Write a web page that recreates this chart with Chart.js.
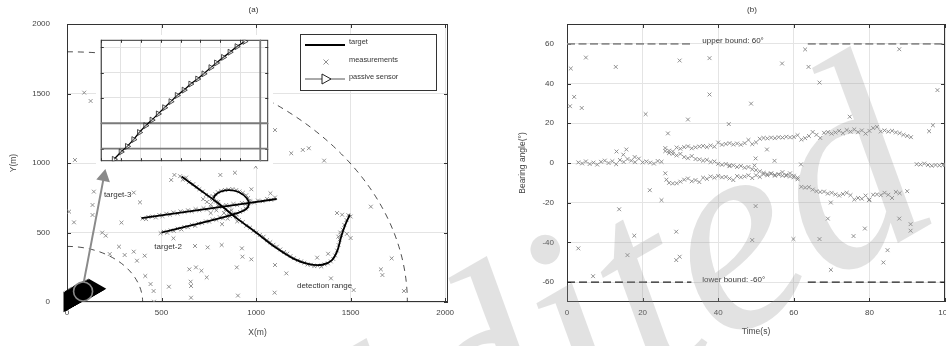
<!DOCTYPE html>
<html>
<head>
<meta charset="utf-8">
<script src="https://cdn.jsdelivr.net/npm/chart.js@4.4.0/dist/chart.umd.min.js"></script>
<style>
html, body { margin: 0; padding: 0; background: #fff; width: 946px; height: 346px; overflow: hidden; }
canvas { position: absolute; top: 0; }
#chartA { left: 0; }
#chartB { left: 473px; }
#inset { left: 96px; top: 35px; }
#mark { left: 0; pointer-events: none; }
</style>
</head>
<body>
<canvas id="chartA" width="473" height="346"></canvas>
<canvas id="chartB" width="500" height="346"></canvas>
<canvas id="inset" width="177" height="131"></canvas>
<canvas id="mark" width="946" height="346"></canvas>
<script>
// ---------- (a) plane view, metres ----------
const xTicksA = [0, 500, 1000, 1500, 2000];
const yTicksA = [0, 500, 1000, 1500, 2000];
const detectionRadii = [400, 1800];

// true tracks
const target1Path = [[606,903],[700,810],[800,710],[900,600],[1000,500],[1100,395],[1200,310],[1280,272],[1350,268],[1400,300],[1430,370],[1450,470],[1470,550],[1496,628]];
const target2Path = [[394,604],[750,672],[1109,741]];
const target3Path = [[500,500],[650,550],[800,600],[900,640],[945,665],[962,700],[952,745],[910,790],[860,805],[815,795],[785,770],[775,745]];

// passive sensor track (inset units)
const sensorX = [13.3,20.2,26.5,32.9,38.6,44.9,51.2,57.5,63.8,70.2,76.5,83.4,90.1,97.0,103.3,110.3,115.9,122.9,129.5,136.5,144.4];
const sensorY = [1.5,7.3,11.7,17.1,22.7,28.1,32.5,37.4,42.3,47.1,52.0,56.2,61.0,65.0,69.1,74.0,77.7,82.1,86.2,90.6,94.7];
const zoomMark = [[85,76]];
const zoomArrow = [[89,145],[195,900]];

// measurements
const clutterA = [[91,1506],[125,1446],[42,1022],[1100,1237],[1186,1070],[1247,1094],[1279,1106],[1360,1017],[998,974],[568,914],[551,878],[811,914],[888,930],[975,811],[1076,782],[142,794],[135,698],[135,626],[11,650],[37,573],[186,499],[205,477],[288,571],[353,787],[386,717],[275,398],[226,345],[305,338],[353,362],[370,297],[411,333],[414,187],[442,129],[458,79],[460,2],[539,110],[563,458],[677,403],[744,393],[818,410],[925,386],[928,326],[975,307],[647,235],[682,249],[711,225],[739,177],[654,146],[656,115],[656,31],[898,249],[904,46],[1100,266],[1160,206],[1098,67],[1323,319],[1396,170],[1516,86],[1607,686],[1717,314],[1660,235],[1668,194],[1782,79],[1381,347]];
const meas1 = [[598,905],[612,880],[630,895],[645,862],[668,848],[686,828],[700,812],[718,795],[735,770],[752,760],[770,738],[788,722],[800,700],[822,690],[838,665],[858,650],[872,628],[895,612],[910,590],[930,575],[948,548],[968,535],[985,512],[1002,500],[1020,482],[1040,470],[1058,445],[1075,430],[1092,412],[1110,398],[1128,378],[1148,360],[1165,348],[1182,330],[1200,315],[1220,300],[1238,292],[1255,282],[1272,270],[1290,268],[1308,258],[1325,262],[1345,255],[1362,270],[1380,278],[1395,292],[1408,310],[1418,335],[1428,370],[1436,410],[1442,450],[1450,480],[1458,520],[1466,555],[1478,590],[1488,625],[1428,640],[1455,628],[1500,615],[1445,500],[1480,490],[1500,460],[1435,470]];
const meas2 = [[400,600],[418,596],[430,612],[452,615],[470,608],[488,626],[505,618],[525,635],[545,628],[562,645],[585,636],[600,652],[622,648],[640,660],[660,652],[680,668],[700,660],[722,675],[740,665],[762,680],[780,672],[800,690],[820,682],[842,698],[860,690],[880,705],[900,698],[925,712],[945,705],[968,722],[990,715],[1010,730],[1035,725],[1058,742],[1080,735],[1100,752]];
const meas3 = [[495,495],[512,505],[530,498],[548,515],[565,512],[585,528],[605,522],[620,540],[640,538],[660,555],[678,548],[695,565],[715,568],[735,580],[752,578],[770,595],[790,592],[808,610],[825,602],[845,622],[862,618],[880,635],[898,630],[915,648],[930,660],[945,672],[955,690],[962,710],[965,728],[958,748],[948,768],[930,785],[912,795],[895,805],[875,812],[855,810],[835,806],[815,800],[798,790],[785,775],[772,760],[765,745],[778,728],[800,720],[760,700],[740,720],[720,740],[790,660],[830,640],[850,600],[870,660],[900,580],[820,560],[760,640]];

// inset grid
const insetXTicks = [0, 20, 40, 60, 80, 100, 120, 140, 160];
const insetYTicks = [10, 30, 50, 70, 90];
const insetMarkX = [160];
const insetMarkY = [10, 30];

// ---------- (b) bearing vs time ----------
const xTicksB = [0, 20, 40, 60, 80, 100];
const yTicksB = [-60, -40, -20, 0, 20, 40, 60];
const boundSegments = [[0, 32.9], [63.7, 100]];
const bounds = [60, -60];

const bearingTrack1 = [[3,0.3],[4,-0.2],[5,0.8],[6,-0.5],[7,0.2],[8,-0.8],[9,0.6],[10,1.2],[11,0],[12,0.9],[13,-0.6],[14,1.5],[15,0.5],[16,2.0],[17,1.2],[18,0.4],[19,2.2],[20,0.3],[21,0.8],[22,0.2],[23,-0.3],[24,1.0],[25,0.6],
  [26,7.5],[27,6.2],[28,5.8],[29,7.8],[30,7.2],[31,8.0],[32,8.4],[33,7.4],[34,7.9],[35,8.3],[36,8.6],[37,8.0],[38,8.8],[39,8.2],[40,10.3],[41,9.2],[42,9.6],[43,10.0],[44,9.3],[45,9.8],[46,9.2],[47,10.0],[48,11.6],[49,9.5],[50,10.4],[51,12.2],[52,12.6],[53,12.4],[54,12.8],[55,12.5],[56,13.0],[57,12.8],[58,13.2],[59,12.9],[60,13.1],[61,14.0],[62,11.8],[63,12.5],[64,13.6],[65,15.6],[66,14.2],[67,12.6],[68,15.2],[69,15.6],[70,14.8],[71,15.4],[72,16.2],[73,15.0],[74,16.6],[75,15.8],[76,16.9],[77,15.5],[78,16.4],[79,14.8],[80,16.2],[81,17.6],[82,18.2],[83,15.9],[84,16.4],[85,15.8],[86,16.2],[87,15.4],[88,15.0],[89,14.2],[90,13.6],[91,13.0]];
const bearingTrack2 = [[26,6.0],[27,5.0],[28,4.6],[29,3.8],[30,4.6],[31,3.0],[32,2.4],[33,3.5],[34,2.0],[35,1.8],[36,1.2],[37,1.6],[38,0.5],[39,0.8],[40,-0.4],[41,-0.9],[42,-0.5],[43,-1.6],[44,-1.2],[45,-2.0],[46,-1.5],[47,-2.4],[48,-2.0],[49,-3.2],[50,-3.6],[51,-4.2],[52,-5.0],[53,-5.6],[54,-5.2],[55,-6.0],[56,-5.6],[57,-6.4],[58,-6.0],[59,-6.8],[60,-6.4],[61,-7.4],
  [62,-12.0],[63,-12.4],[64,-12.2],[65,-13.4],[66,-14.2],[67,-14.6],[68,-14.4],[69,-15.4],[70,-15.0],[71,-15.8],[72,-16.4],[73,-15.6],[74,-15.0],[75,-16.2],[76,-18.4],[77,-17.6],[78,-18.0],[79,-16.4],[80,-18.4],[81,-16.0],[82,-15.8],[83,-16.2],[84,-15.0],[85,-16.0],[86,-17.6],[87,-14.6],[88,-15.2],[90,-14.2]];
const bearingTrack3 = [[26,-5.2],[26.3,-8.4],[27,-10.0],[28,-10.3],[29,-10.2],[30,-9.4],[31,-8.4],[32,-7.8],[33,-9.2],[34,-8.6],[35,-9.6],[36,-7.4],[37,-8.0],[38,-6.8],[39,-7.4],[40,-6.5],[41,-7.2],[42,-7.0],[43,-7.8],[44,-8.6],[45,-6.6],[46,-7.2],[47,-6.8],[48,-6.2],[49,-7.6],[50,-6.2],[51,-7.0],[52,-5.6],[53,-6.2],[54,-5.4],[55,-6.4],[56,-5.8],[57,-4.6],[58,-6.4],[59,-5.2],[60,-7.2],[61,-8.2]];
const bearingTrack4 = [[92.5,-0.6],[93.5,-0.8],[94.5,-0.3],[95.5,-1.0],[96.5,-1.4],[97.5,-1.0],[98.5,-1.2],[99.5,-0.9],[100,-1.0]];
const bearingClutter = [[1,47.6],[5,53.1],[12.9,48.4],[29.8,51.6],[37.7,52.8],[56.9,50.1],[63,57.2],[63.9,48.4],[66.8,40.5],[87.9,57.3],[98,36.7],[0.8,28.6],[1.9,33.3],[3.9,27.7],[20.8,24.6],[32,21.9],[37.7,34.5],[48.7,29.9],[42.8,19.6],[74.8,23.3],[95.8,16],[96.8,19],[26.7,14.9],[52.9,6.8],[54.9,1.1],[49.9,2.3],[61.9,-0.7],[21.9,-13.7],[25,-18.7],[13.8,-23.3],[49.9,-21.7],[69.8,-19.9],[79.9,-18.7],[69,-28],[87.9,-28],[78.8,-33],[90.9,-30.8],[90.9,-34.1],[17.8,-36.6],[28.9,-34.6],[49,-38.8],[59.9,-38.3],[66.8,-38.3],[75.8,-36.8],[3,-43],[16,-46.4],[28.9,-48.9],[29.8,-47.2],[84.8,-43.9],[83.7,-50.1],[69.8,-53.8],[6.9,-57],[13.1,5.8],[14.9,4.2],[15.7,6.8],[17.9,3.0],[49.6,-1.2],[43,-1.2]];

// ---------- helpers ----------
const xy = arr => arr.map(p => ({ x: p[0], y: p[1] }));
const FONT = "'Liberation Sans', Arial, sans-serif";
Chart.defaults.font.family = FONT;
Chart.defaults.color = '#444';
Chart.defaults.animation = false;
Chart.defaults.events = [];
Chart.defaults.plugins.legend.display = false;
Chart.defaults.plugins.tooltip.enabled = false;

const crossStyle = {
  pointStyle: 'crossRot', pointRadius: 2.7, pointBorderColor: '#858585',
  pointBorderWidth: 0.9, pointBackgroundColor: 'transparent', showLine: false
};

const fixTicks = list => s => { s.ticks = list.map(v => ({ value: v })); };

// box round the plot with inward ticks
const framePlugin = {
  id: 'frame',
  beforeDatasetsDraw(chart, args, opts) {
    const { ctx, chartArea: a, scales: { x, y } } = chart;
    const len = opts.tick;
    ctx.save();
    ctx.strokeStyle = opts.color;
    ctx.lineWidth = 1;
    ctx.beginPath();
    x.ticks.forEach(t => {
      const p = Math.round(x.getPixelForValue(t.value)) + 0.5;
      ctx.moveTo(p, a.top); ctx.lineTo(p, a.top + len);
      ctx.moveTo(p, a.bottom); ctx.lineTo(p, a.bottom - len);
    });
    y.ticks.forEach(t => {
      const p = Math.round(y.getPixelForValue(t.value)) + 0.5;
      ctx.moveTo(a.left, p); ctx.lineTo(a.left + len, p);
      ctx.moveTo(a.right, p); ctx.lineTo(a.right - len, p);
    });
    ctx.stroke();
    ctx.strokeRect(a.left + 0.5, a.top + 0.5, a.width - 1, a.height - 1);
    ctx.restore();
  }
};

// panel caption and text notes in data coordinates
const notesPlugin = {
  id: 'notes',
  afterDatasetsDraw(chart, args, opts) {
    const { ctx, chartArea: a, scales: { x, y } } = chart;
    ctx.save();
    ctx.fillStyle = '#333';
    ctx.textBaseline = 'middle';
    ctx.font = '8px ' + FONT;
    ctx.textAlign = 'center';
    ctx.fillText(opts.caption, (a.left + a.right) / 2 - 4, 10);
    (opts.notes || []).forEach(n => {
      ctx.textAlign = n.align || 'center';
      ctx.fillText(n.text, x.getPixelForValue(n.x), y.getPixelForValue(n.y));
    });
    ctx.restore();
  }
};

// dashed detection range arcs round the origin
const arcsPlugin = {
  id: 'arcs',
  beforeDatasetsDraw(chart) {
    const { ctx, chartArea: a, scales: { x, y } } = chart;
    const cx = x.getPixelForValue(0), cy = y.getPixelForValue(0);
    ctx.save();
    ctx.beginPath(); ctx.rect(a.left, a.top, a.width, a.height); ctx.clip();
    ctx.setLineDash([6, 5]);
    ctx.strokeStyle = '#222';
    ctx.lineWidth = 0.8;
    detectionRadii.forEach(r => {
      ctx.beginPath();
      ctx.ellipse(cx, cy, x.getPixelForValue(r) - cx, cy - y.getPixelForValue(r), 0, -Math.PI / 2, 0);
      ctx.stroke();
    });
    ctx.restore();
  }
};

// legend box in the upper right of (a)
const legendPlugin = {
  id: 'boxLegend',
  afterDraw(chart) {
    const ctx = chart.ctx;
    const L = 300, T = 34, W = 136, H = 56;
    ctx.save();
    ctx.fillStyle = '#fff';
    ctx.fillRect(L, T, W, H);
    ctx.strokeStyle = '#333';
    ctx.lineWidth = 1;
    ctx.strokeRect(L + 0.5, T + 0.5, W, H);
    ctx.lineWidth = 2; ctx.strokeStyle = '#000';
    ctx.beginPath(); ctx.moveTo(L + 5, T + 11); ctx.lineTo(L + 45, T + 11); ctx.stroke();
    ctx.strokeStyle = '#858585'; ctx.lineWidth = 0.9;
    ctx.beginPath();
    ctx.moveTo(L + 23.5, T + 25.5); ctx.lineTo(L + 28.5, T + 30.5);
    ctx.moveTo(L + 28.5, T + 25.5); ctx.lineTo(L + 23.5, T + 30.5);
    ctx.stroke();
    ctx.strokeStyle = '#555'; ctx.lineWidth = 1;
    ctx.beginPath(); ctx.moveTo(L + 5, T + 45); ctx.lineTo(L + 45, T + 45); ctx.stroke();
    ctx.fillStyle = '#fff'; ctx.strokeStyle = '#222';
    ctx.beginPath();
    ctx.moveTo(L + 22, T + 40); ctx.lineTo(L + 31, T + 45); ctx.lineTo(L + 22, T + 50); ctx.closePath();
    ctx.fill(); ctx.stroke();
    ctx.fillStyle = '#333';
    ctx.font = '7.4px ' + FONT;
    ctx.textBaseline = 'middle';
    ctx.fillText('target', L + 49, T + 8);
    ctx.fillText('measurements', L + 49, T + 25.5);
    ctx.fillText('passive sensor', L + 49, T + 42.5);
    ctx.restore();
  }
};

function axisOpts(min, max, ticks, title, size, tickPad, titlePad) {
  return {
    type: 'linear', min, max,
    afterBuildTicks: fixTicks(ticks),
    afterFit: s => {
      if (s.isHorizontal()) s.height = size; else s.width = size;
      s.paddingLeft = s.paddingRight = s.paddingTop = s.paddingBottom = 0;
    },
    ticks: { font: { size: 8 }, color: '#444', padding: tickPad, callback: v => String(v) },
    grid: { color: '#e4e4e4', drawTicks: false, lineWidth: 1 },
    border: { display: false },
    title: { display: true, text: title, font: { size: 8.5 }, color: '#444', padding: titlePad }
  };
}

// ---------- chart (a) ----------
new Chart(document.getElementById('chartA'), {
  type: 'scatter',
  data: {
    datasets: [
      { ...crossStyle, data: xy(clutterA), order: 6 },
      { ...crossStyle, data: xy(meas1), order: 6 },
      { ...crossStyle, data: xy(meas2), order: 6 },
      { ...crossStyle, data: xy(meas3), order: 6 },
      { data: xy(target1Path), showLine: true, borderColor: '#000', borderWidth: 1.8, pointRadius: 0, tension: 0.35, order: 4 },
      { data: xy(target2Path), showLine: true, borderColor: '#000', borderWidth: 1.8, pointRadius: 0, tension: 0.2, order: 4 },
      { data: xy(target3Path), showLine: true, borderColor: '#000', borderWidth: 1.8, pointRadius: 0, tension: 0.4, order: 4 },
      { data: sensorX.map((v, i) => ({ x: v, y: sensorY[i] })), showLine: true, borderColor: '#000', borderWidth: 7,
        pointStyle: 'triangle', pointRotation: 90, pointRadius: 5, pointBackgroundColor: '#000', pointBorderColor: '#000', clip: false, order: 3 },
      { data: xy(zoomMark), pointStyle: 'circle', pointRadius: 9.5, pointBorderColor: '#8a8a8a', pointBorderWidth: 1.6,
        pointBackgroundColor: 'rgba(0,0,0,0)', clip: false, order: 2 },
      { data: xy(zoomArrow), showLine: true, borderColor: '#8a8a8a', borderWidth: 2, pointRadius: [0, 6], pointStyle: 'triangle',
        pointRotation: 11, pointBackgroundColor: '#8a8a8a', pointBorderColor: '#8a8a8a', order: 1 }
    ]
  },
  options: {
    responsive: false,
    layout: { padding: { left: 0, top: 24, right: 25, bottom: 0 } },
    scales: {
      x: axisOpts(0, 2015, xTicksA, 'X(m)', 44, 6, { top: 4, bottom: 8.5 }),
      y: axisOpts(0, 2000, yTicksA, 'Y(m)', 67, 17, { top: 9, bottom: 4 })
    },
    plugins: {
      frame: { tick: 4, color: '#333' },
      notes: {
        caption: '(a)',
        notes: [
          { text: 'target-3', x: 268, y: 771 },
          { text: 'target-2', x: 535, y: 395 },
          { text: 'detection range', x: 1362, y: 119 }
        ]
      }
    }
  },
  plugins: [framePlugin, arcsPlugin, notesPlugin, legendPlugin]
});

// ---------- inset of (a) ----------
new Chart(document.getElementById('inset'), {
  type: 'scatter',
  data: {
    datasets: [
      ...insetMarkX.map(v => ({ data: [{ x: v, y: 0 }, { x: v, y: 96 }], showLine: true, borderColor: '#7a7a7a', borderWidth: 1.8, pointRadius: 0 })),
      ...insetMarkY.map(v => ({ data: [{ x: 0, y: v }, { x: 168, y: v }], showLine: true, borderColor: '#7a7a7a', borderWidth: 1.8, pointRadius: 0 })),
      { data: sensorX.map((v, i) => ({ x: v, y: sensorY[i] })), showLine: true, borderColor: '#000', borderWidth: 1.3,
        pointStyle: 'triangle', pointRotation: 90, pointRadius: 3.4, pointBorderColor: '#222', pointBorderWidth: 0.8,
        pointBackgroundColor: 'rgba(255,255,255,0.35)', order: -1 }
    ]
  },
  options: {
    responsive: false,
    layout: { padding: 0 },
    scales: {
      x: { type: 'linear', min: 0, max: 168, afterBuildTicks: fixTicks(insetXTicks), ticks: { display: false },
           grid: { color: '#e2e2e2', drawTicks: false }, border: { display: false },
           afterFit: s => { s.height = 0; s.paddingLeft = s.paddingRight = 0; } },
      y: { type: 'linear', min: 0, max: 96, afterBuildTicks: fixTicks(insetYTicks), ticks: { display: false },
           grid: { color: '#e2e2e2', drawTicks: false }, border: { display: false },
           afterFit: s => { s.width = 0; s.paddingTop = s.paddingBottom = 0; } }
    },
    plugins: { frame: { tick: 3, color: '#333' } }
  },
  plugins: [{ id: 'bg', beforeDraw(c) { c.ctx.save(); c.ctx.fillStyle = '#fff'; c.ctx.fillRect(0, 0, c.width, c.height); c.ctx.restore(); } }, framePlugin]
});

// ---------- chart (b) ----------
const boundSets = [];
bounds.forEach((b, k) => boundSegments.forEach(seg => boundSets.push({
  data: seg.map(t => ({ x: t, y: b })), showLine: true, pointRadius: 0,
  borderColor: k === 0 ? '#8c8c8c' : '#222', borderWidth: k === 0 ? 1.6 : 1.2,
  borderDash: k === 0 ? [8, 3.5] : [8, 4], order: 1
})));

new Chart(document.getElementById('chartB'), {
  type: 'scatter',
  data: {
    datasets: [
      { ...crossStyle, data: xy(bearingClutter), order: 2 },
      { ...crossStyle, data: xy(bearingTrack1), order: 2 },
      { ...crossStyle, data: xy(bearingTrack2), order: 2 },
      { ...crossStyle, data: xy(bearingTrack3), order: 2 },
      { ...crossStyle, data: xy(bearingTrack4), order: 2 },
      ...boundSets
    ]
  },
  options: {
    responsive: false,
    layout: { padding: { left: 0, top: 24, right: 28, bottom: 0 } },
    scales: {
      x: axisOpts(0, 100, xTicksB, 'Time(s)', 44, 6, { top: 4, bottom: 9.5 }),
      y: axisOpts(-70, 70, yTicksB, 'Bearing angle(°)', 94, 13, { top: 45, bottom: 4 })
    },
    plugins: {
      frame: { tick: 4, color: '#333' },
      notes: {
        caption: '(b)',
        notes: [
          { text: 'upper bound: 60°', x: 35.8, y: 61.3, align: 'left' },
          { text: 'lower bound: -60°', x: 35.8, y: -59, align: 'left' }
        ]
      }
    }
  },
  plugins: [framePlugin, notesPlugin]
});

// ---------- faint overlay word ----------
(function () {
  const ctx = document.getElementById('mark').getContext('2d');
  ctx.save();
  ctx.translate(314, 580);
  ctx.rotate(-30 * Math.PI / 180);
  ctx.font = "italic 280px 'Liberation Serif', serif";
  ctx.fillStyle = 'rgba(150,150,150,0.28)';
  ctx.fillText('Edited', 0, 0);
  ctx.restore();
})();
</script>
</body>
</html>
